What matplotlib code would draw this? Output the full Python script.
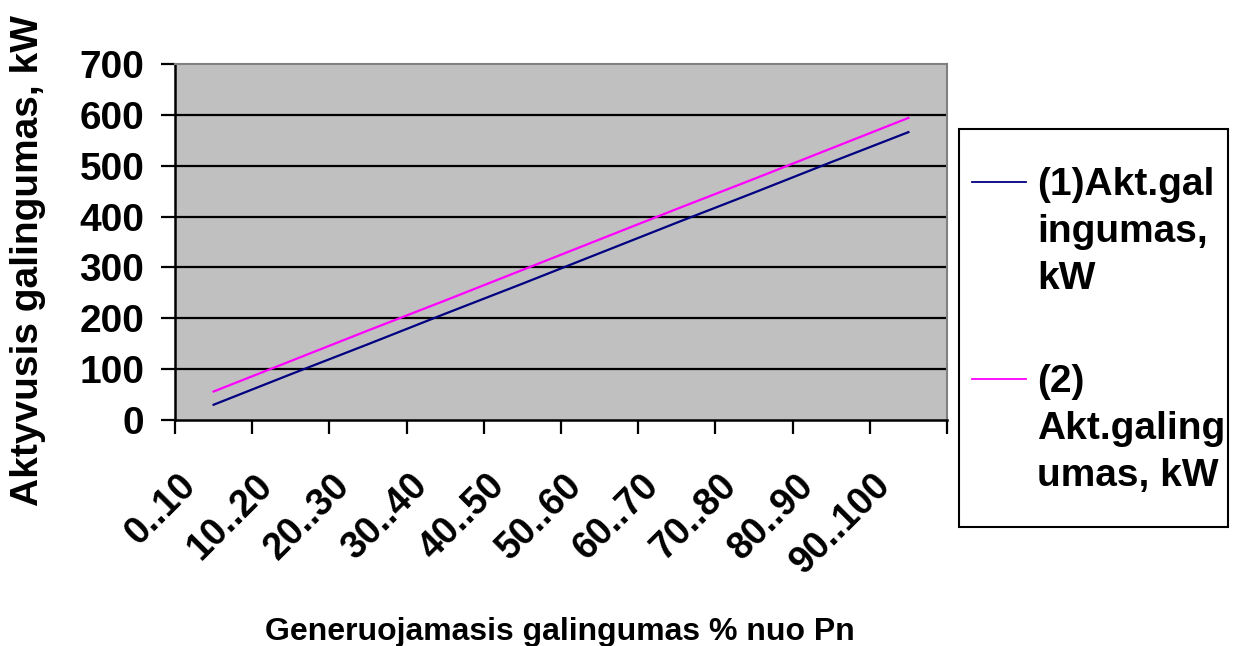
import matplotlib
matplotlib.use('Agg')
import matplotlib.pyplot as plt
import matplotlib.transforms as mtransforms
from matplotlib.lines import Line2D
from matplotlib.patches import Rectangle
import numpy as np

plt.rcParams['font.family'] = ['Liberation Sans', 'DejaVu Sans']
plt.rcParams['font.weight'] = 'bold'

categories = ['0..10', '10..20', '20..30', '30..40', '40..50',
              '50..60', '60..70', '70..80', '80..90', '90..100']
akt_gal_1 = [30, 90, 149, 209, 268, 328, 388, 447, 507, 566]
akt_gal_2 = [56, 116, 176, 235, 295, 355, 415, 474, 534, 594]
label_1 = '(1)Akt.gal\ningumas,\nkW'
label_2 = '(2)\nAkt.galing\numas, kW'
y_ticks = [0, 100, 200, 300, 400, 500, 600, 700]

W, H = 1243.0, 646.0


def main():
    fig = plt.figure(figsize=(12.43, 6.46), dpi=100)
    ax = fig.add_axes([175 / W, 1 - 420 / H, 772 / W, 356 / H])
    ax.set_facecolor('#C0C0C0')

    x = np.arange(len(categories))
    ax.plot(x, akt_gal_1, color='#000080', lw=1.6, zorder=3)
    ax.plot(x, akt_gal_2, color='#FF00FF', lw=1.6, zorder=3)

    ax.set_xlim(-0.5, len(categories) - 0.5)
    ax.set_ylim(0, 700)
    ax.set_yticks(y_ticks)
    ax.set_yticklabels([str(v) for v in y_ticks], fontsize=28, fontweight='bold')
    for v in y_ticks[1:-1]:
        ax.axhline(v, color='black', lw=1.6, zorder=1)

    ax.set_xticks(x)
    ax.set_xticklabels(categories, rotation=45, ha='right', rotation_mode='anchor',
                       fontsize=27, fontweight='bold')
    ax.tick_params(axis='x', which='major', length=0, pad=26)
    # shift the rotated labels a bit left and down, like the original
    shift = mtransforms.ScaledTranslation(-0.36, -0.11, fig.dpi_scale_trans)
    for lbl in ax.get_xticklabels():
        lbl.set_transform(lbl.get_transform() + shift)
    ax.set_xticks(np.arange(len(categories) + 1) - 0.5, minor=True)
    ax.tick_params(axis='x', which='minor', length=10, width=1.6, direction='out')
    ax.tick_params(axis='y', length=10, width=1.6, direction='out', pad=12)

    for side in ('top', 'right'):
        ax.spines[side].set_color('#808080')
        ax.spines[side].set_linewidth(1.5)
    for side in ('left', 'bottom'):
        ax.spines[side].set_color('black')
        ax.spines[side].set_linewidth(1.8)

    fig.text(28 / W, 1 - 260 / H, 'Aktyvusis galingumas, kW', rotation=90,
             ha='center', va='center', fontsize=28, fontweight='bold')
    fig.text(560 / W, 1 - 640 / H, 'Generuojamasis galingumas % nuo Pn', ha='center',
             va='baseline', fontsize=23, fontweight='bold')

    # legend box
    fig.patches.append(Rectangle((959 / W, 1 - 527 / H), 269 / W, 398 / H,
                                 transform=fig.transFigure, fill=False,
                                 edgecolor='black', lw=1.5))
    fig.lines.append(Line2D([972 / W, 1026 / W], [1 - 182 / H, 1 - 182 / H],
                            transform=fig.transFigure, color='#000080', lw=1.3))
    fig.lines.append(Line2D([972 / W, 1026 / W], [1 - 379 / H, 1 - 379 / H],
                            transform=fig.transFigure, color='#FF00FF', lw=1.3))
    fig.text(1037 / W, 1 - 167 / H, label_1, ha='left', va='top', fontsize=28,
             fontweight='bold', linespacing=1.39)
    fig.text(1037 / W, 1 - 364 / H, label_2, ha='left', va='top', fontsize=28,
             fontweight='bold', linespacing=1.39)

    fig.savefig('out.png', dpi=100)


if __name__ == "__main__":
    main()
